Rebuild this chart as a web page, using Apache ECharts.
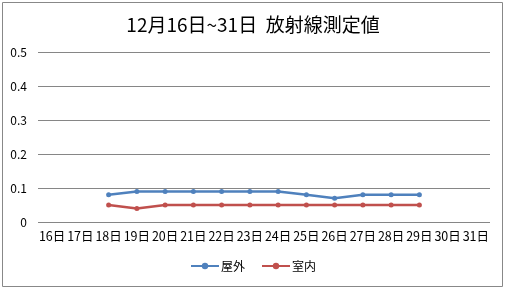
<!DOCTYPE html>
<html><head><meta charset="utf-8">
<script src="https://cdn.jsdelivr.net/npm/echarts@6/dist/echarts.min.js"></script>
<style>html,body{margin:0;padding:0;background:#fff}#c{width:506px;height:291px}</style>
</head><body><div id="c"></div>
<script>
const categories = ['16日','17日','18日','19日','20日','21日','22日','23日','24日','25日','26日','27日','28日','29日','30日','31日'];
const outdoor = [null,null,0.08,0.09,0.09,0.09,0.09,0.09,0.09,0.08,0.07,0.08,0.08,0.08,null,null];
const indoor = [null,null,0.05,0.04,0.05,0.05,0.05,0.05,0.05,0.05,0.05,0.05,0.05,0.05,null,null];
const yTicks = [0,0.1,0.2,0.3,0.4,0.5];
const font = '"Noto Sans CJK JP", "DejaVu Sans", sans-serif';
const chart = echarts.init(document.getElementById('c'));
chart.setOption({
  backgroundColor:'#fff',
  animation:false,
  graphic:[{type:'rect',shape:{x:2.5,y:2.5,width:500,height:284},style:{fill:'none',stroke:'#888',lineWidth:1}}],
  title:{text:'12月16日~31日  放射線測定値',left:'center',top:10,textStyle:{fontSize:19,fontWeight:'normal',color:'#000',fontFamily:font}},
  legend:{bottom:14,left:'center',itemWidth:28,itemHeight:8,itemGap:16,textStyle:{fontSize:12,color:'#000',fontFamily:font,padding:[0,0,0,-3]},data:['屋外','室内']},
  grid:{left:38,right:16,top:52,bottom:69},
  xAxis:{type:'category',data:categories,boundaryGap:true,axisLine:{show:false},axisTick:{show:false},
    axisLabel:{fontSize:12.5,color:'#000',fontFamily:font,interval:0,margin:8}},
  yAxis:{type:'value',min:yTicks[0],max:yTicks[yTicks.length-1],interval:0.1,
    axisLine:{show:false},axisTick:{show:false},
    axisLabel:{fontSize:12,color:'#000',fontFamily:font,margin:11,formatter:v=>String(Math.round(v*10)/10)},
    splitLine:{lineStyle:{color:'#868686',width:1}}},
  series:[
    {name:'屋外',type:'line',data:outdoor,color:'#4F81BD',lineStyle:{width:2.5},symbol:'circle',symbolSize:5,itemStyle:{color:'#4F81BD'}},
    {name:'室内',type:'line',data:indoor,color:'#C0504D',lineStyle:{width:2.5},symbol:'circle',symbolSize:5,itemStyle:{color:'#C0504D'}}
  ]
});
</script></body></html>
